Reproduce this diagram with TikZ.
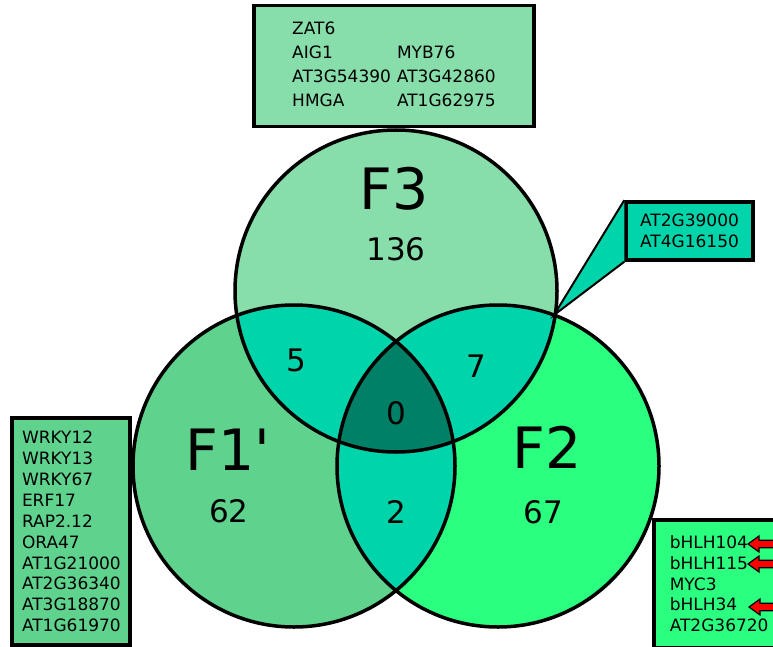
\documentclass[tikz,border=0pt]{standalone}
\usepackage{fontspec}
\setmainfont{DejaVu Sans}[Ligatures=TeXOff]
\definecolor{setthree}{HTML}{87DEAA}
\definecolor{setone}{HTML}{5FD38D}
\definecolor{settwo}{HTML}{2AFF80}
\definecolor{pairfill}{HTML}{00D4AA}
\definecolor{allfill}{HTML}{008066}
\begin{document}
\begin{tikzpicture}[x=1pt,y=-1pt,
  setname/.style={font=\fontsize{57}{57}\selectfont},
  setcount/.style={font=\fontsize{31}{31}\selectfont},
  genebox/.style={draw,line width=3.5pt,inner sep=0pt,font=\fontsize{17}{20.9}\selectfont},
  ring/.style={draw,line width=3.5pt},
  redarrow/.style={draw,line width=1.2pt,fill=red,line join=miter}]
\useasboundingbox (0,0) rectangle (773,647);
\clip (0,0) rectangle (773,647);
\coordinate (C3) at (396,291);
\coordinate (C1) at (294,466);
\coordinate (C2) at (498,466);
% the three sets
\fill[setthree] (C3) circle (161pt);
\fill[setone] (C1) circle (161pt);
\fill[settwo] (C2) circle (161pt);
% pairwise overlaps
\begin{scope}
\clip (C3) circle (161pt);
\fill[pairfill] (C1) circle (161pt);
\fill[pairfill] (C2) circle (161pt);
\end{scope}
\begin{scope}
\clip (C1) circle (161pt);
\fill[pairfill] (C2) circle (161pt);
\clip (C2) circle (161pt);
\fill[allfill] (C3) circle (161pt);
\end{scope}
\draw[ring] (C3) circle (161pt);
\draw[ring] (C1) circle (161pt);
\draw[ring] (C2) circle (161pt);
% labels
\node[setname] (N3) at (394,189) {F3};
\node[setcount] (K3) at (396,249) {136};
\node[setname] (N1) at (228,450) {F1'};
\node[setcount] (K1) at (229,511) {62};
\node[setname] (N2) at (547,447) {F2};
\node[setcount] (K2) at (543,512) {67};
\node[setcount] (K13) at (296,360) {5};
\node[setcount] (K23) at (476,366) {7};
\node[setcount] (K12) at (396,512) {2};
\node[setcount] (K123) at (396,413) {0};
% gene lists
\node[genebox,fill=setthree,minimum width=280pt,minimum height=121pt] (L3) at (394,66)
  {\fontsize{17}{24}\selectfont\begin{tabular}{@{}l@{\hspace{6pt}}l@{}}ZAT6 & \\ AIG1 & MYB76\\ AT3G54390 & AT3G42860\\ HMGA & AT1G62975\end{tabular}};
\coordinate (T23) at (554,315);
\node[genebox,fill=pairfill,align=center,minimum width=127pt,minimum height=58pt] (L23) at (689.5,231)
  {AT2G39000\\AT4G16150};
\filldraw[fill=pairfill,line width=2pt] (L23.north west) -- (T23) -- (L23.south west);
\node[genebox,fill=setone,align=left,text width=98pt,minimum width=118pt,minimum height=227pt] (L1) at (71,531.5)
  {WRKY12\\WRKY13\\WRKY67\\ERF17\\RAP2.12\\ORA47\\AT1G21000\\AT2G36340\\AT3G18870\\AT1G61970};
\node[genebox,fill=settwo,align=left,text width=115pt,inner xsep=16pt,minimum height=128pt,anchor=north west] (L2) at (652,518)
  {bHLH104\\bHLH115\\MYC3\\bHLH34\\AT2G36720};
% red pointers at the bHLH genes
\foreach \y/\x in {544/748,564/748,607/749}
  \draw[redarrow] (\x,\y) -- ++(11,-8) -- ++(0,4.3) -- ++(40,0) -- ++(0,7.4) -- ++(-40,0) -- ++(0,4.3) -- cycle;
\end{tikzpicture}
\end{document}
